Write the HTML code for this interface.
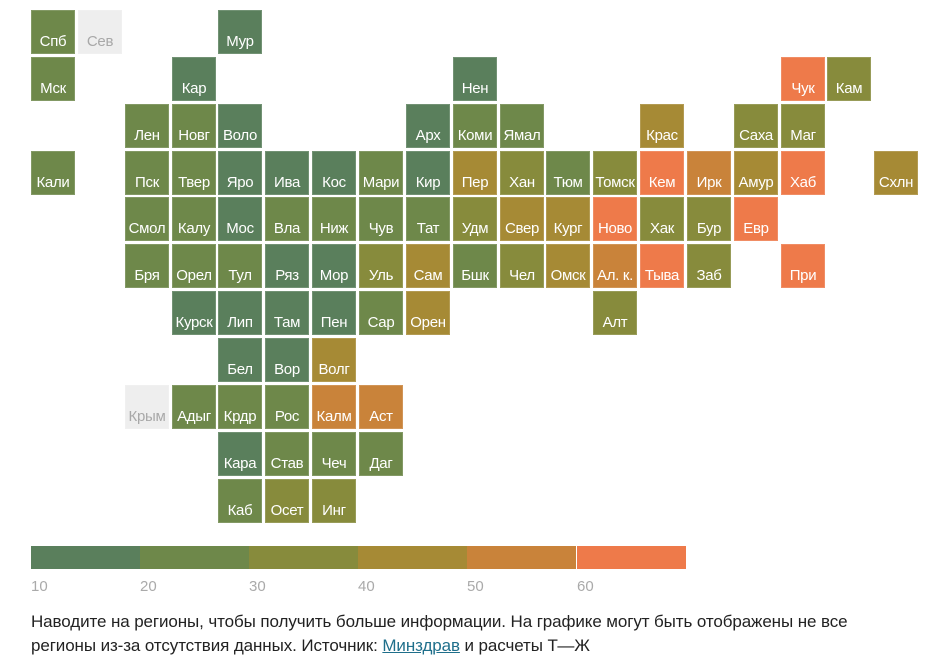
<!DOCTYPE html>
<html><head><meta charset="utf-8"><style>
body{margin:0;width:948px;height:656px;background:#fff;font-family:"Liberation Sans",sans-serif;position:relative;overflow:hidden}
.c{position:absolute;width:44px;height:44px;color:#fff;font-size:15px;display:flex;align-items:flex-end;justify-content:center;box-sizing:border-box;line-height:1;white-space:nowrap;letter-spacing:-0.3px;box-shadow:inset 0 0 0 1px rgba(255,255,255,0.15)}
.c span{margin-bottom:5px}
.A{background:#5a7f5c}.B{background:#6e884a}.C{background:#878b3c}.D{background:#a68a35}.E{background:#c9833a}.F{background:#ee7a4a}.G{background:#eeeeee;color:#a8a8a8}
.seg{position:absolute;top:546px;height:23px;width:109px}
.lb{position:absolute;top:578px;font-size:15px;color:#aaa}
.cap{position:absolute;left:31px;top:610px;font-size:17px;color:#222;line-height:24px;width:880px;letter-spacing:-0.1px}
.cap a{color:#1f6f8b;text-decoration:underline}
</style></head><body>
<div id="m"></div>
<div class="seg A" style="left:31px"></div><div class="seg B" style="left:140px"></div><div class="seg C" style="left:249px"></div><div class="seg D" style="left:358px"></div><div class="seg E" style="left:467px"></div><div class="seg F" style="left:577px"></div>
<div class="lb" style="left:31px">10</div><div class="lb" style="left:140px">20</div><div class="lb" style="left:249px">30</div><div class="lb" style="left:358px">40</div><div class="lb" style="left:467px">50</div><div class="lb" style="left:577px">60</div>
<div class="cap">Наводите на регионы, чтобы получить больше информации. На графике могут быть отображены не все<br>регионы из-за отсутствия данных. Источник: <a>Минздрав</a> и расчеты Т—Ж</div>
<script>
var d=[
[0,0,"Спб","B"],[0,1,"Сев","G"],[0,4,"Мур","A"],
[1,0,"Мск","B"],[1,3,"Кар","A"],[1,9,"Нен","A"],[1,16,"Чук","F"],[1,17,"Кам","C"],
[2,2,"Лен","B"],[2,3,"Новг","B"],[2,4,"Воло","A"],[2,8,"Арх","A"],[2,9,"Коми","B"],[2,10,"Ямал","B"],[2,13,"Крас","D"],[2,15,"Саха","C"],[2,16,"Маг","C"],
[3,0,"Кали","B"],[3,2,"Пск","B"],[3,3,"Твер","B"],[3,4,"Яро","A"],[3,5,"Ива","A"],[3,6,"Кос","A"],[3,7,"Мари","B"],[3,8,"Кир","A"],[3,9,"Пер","D"],[3,10,"Хан","C"],[3,11,"Тюм","B"],[3,12,"Томск","C"],[3,13,"Кем","F"],[3,14,"Ирк","E"],[3,15,"Амур","D"],[3,16,"Хаб","F"],[3,18,"Схлн","D"],
[4,2,"Смол","B"],[4,3,"Калу","B"],[4,4,"Мос","A"],[4,5,"Вла","B"],[4,6,"Ниж","B"],[4,7,"Чув","B"],[4,8,"Тат","B"],[4,9,"Удм","C"],[4,10,"Свер","D"],[4,11,"Кург","D"],[4,12,"Ново","F"],[4,13,"Хак","C"],[4,14,"Бур","C"],[4,15,"Евр","F"],
[5,2,"Бря","B"],[5,3,"Орел","B"],[5,4,"Тул","B"],[5,5,"Ряз","A"],[5,6,"Мор","A"],[5,7,"Уль","C"],[5,8,"Сам","D"],[5,9,"Бшк","B"],[5,10,"Чел","C"],[5,11,"Омск","D"],[5,12,"Ал. к.","E"],[5,13,"Тыва","F"],[5,14,"Заб","C"],[5,16,"При","F"],
[6,3,"Курск","A"],[6,4,"Лип","A"],[6,5,"Там","A"],[6,6,"Пен","A"],[6,7,"Сар","B"],[6,8,"Орен","D"],[6,12,"Алт","C"],
[7,4,"Бел","A"],[7,5,"Вор","A"],[7,6,"Волг","D"],
[8,2,"Крым","G"],[8,3,"Адыг","B"],[8,4,"Крдр","B"],[8,5,"Рос","B"],[8,6,"Калм","E"],[8,7,"Аст","E"],
[9,4,"Кара","A"],[9,5,"Став","B"],[9,6,"Чеч","B"],[9,7,"Даг","B"],
[10,4,"Каб","B"],[10,5,"Осет","C"],[10,6,"Инг","C"]];
var h="";d.forEach(function(r){h+='<div class="c '+r[3]+'" style="left:'+Math.round(31+r[1]*46.85)+'px;top:'+Math.round(10+r[0]*46.85)+'px"><span>'+r[2]+'</span></div>';});
document.getElementById("m").innerHTML=h;
</script>
</body></html>
